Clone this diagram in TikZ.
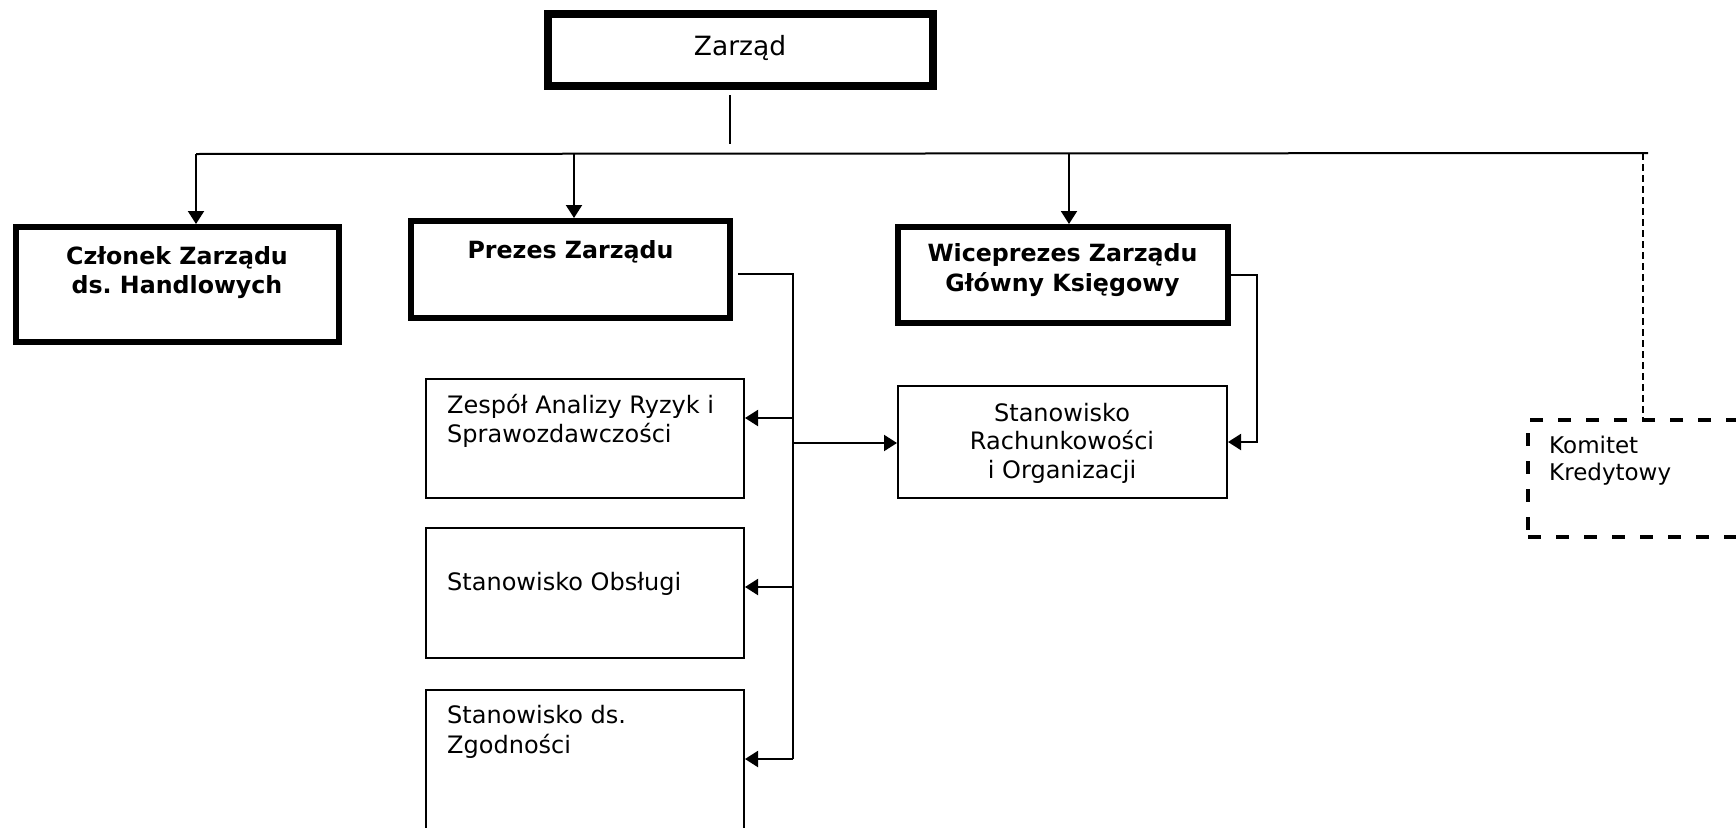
\documentclass[tikz,border=0pt]{standalone}
\usepackage{fontspec}
\setmainfont{DejaVu Sans}
\usetikzlibrary{arrows.meta}
\frenchspacing
\newcommand\mylinesC[1]{\vtop{\halign{\hfil##\hfil\cr#1\crcr}}}
\newcommand\mylinesL[1]{\vtop{\halign{##\hfil\cr#1\crcr}}}
\begin{document}
\begin{tikzpicture}[x=1pt,y=-1pt,
  thickbox/.style={draw, line width=6pt, rectangle, inner sep=0pt},
  thinbox/.style={draw, line width=2pt, rectangle, inner sep=0pt},
  dashbox/.style={draw, line width=4pt, dash pattern=on 13pt off 15pt, rectangle, inner sep=0pt},
  conn/.style={line width=2pt},
  arr/.style={conn, -{Triangle[length=13pt,width=16pt]}},
  dconn/.style={line width=2pt, dash pattern=on 7pt off 4pt},
  reg/.style={font=\frenchspacing\fontsize{24}{29}\selectfont, inner sep=0pt},
  bld/.style={font=\frenchspacing\bfseries\fontsize{23.7}{29.5}\selectfont, inner sep=0pt},
]
\useasboundingbox (0,0) rectangle (1736,827);
\clip (0,0) rectangle (1736,827);

% boxes
\node[thickbox, line width=8pt, minimum width=385pt, minimum height=72pt] (zar) at (740.5,50) {};
\node[thickbox, minimum width=323pt, minimum height=115pt] (cz) at (177.5,284.5) {};
\node[thickbox, minimum width=319pt, minimum height=97pt] (pz) at (570.5,269.5) {};
\node[thickbox, minimum width=330pt, minimum height=96pt] (wc) at (1063,275) {};
\node[thinbox, minimum width=329pt, minimum height=112pt] (sr) at (1062.5,442) {};
\node[thinbox, minimum width=318pt, minimum height=119pt] (ze) at (585,438.5) {};
\node[thinbox, minimum width=318pt, minimum height=130pt] (ob) at (585,593) {};
\node[thinbox, minimum width=318pt, minimum height=210pt] (zg) at (585,795) {};
\node[dashbox, minimum width=271pt, minimum height=117pt] (ko) at (1663.5,478.5) {};

% texts
\node[reg, font=\fontsize{26.5}{30}\selectfont, anchor=base] (zart) at (740,55) {Zarząd};
\node[bld, anchor=base] (czt) at (177,264) {\mylinesC{Członek Zarządu\cr ds. Handlowych}};
\node[bld, anchor=base] (pzt) at (570.5,258) {Prezes Zarządu};
\node[bld, font=\bfseries\fontsize{23.7}{30}\selectfont, anchor=base] (wct) at (1062.5,261) {\mylinesC{Wiceprezes Zarządu\cr Główny Księgowy}};
\node[reg, font=\fontsize{24}{28.5}\selectfont, anchor=base] (srt) at (1062,421) {\mylinesC{Stanowisko\cr Rachunkowości\cr i Organizacji}};
\node[reg, anchor=base west] (zet) at (447,413) {\mylinesL{Zespół Analizy Ryzyk i\cr Sprawozdawczości}};
\node[reg, anchor=base west] (obt) at (447,590) {Stanowisko Obsługi};
\node[reg, font=\fontsize{24}{30}\selectfont, anchor=base west] (zgt) at (447,723) {\mylinesL{Stanowisko ds.\cr Zgodności}};
\node[reg, font=\fontsize{23}{27}\selectfont, anchor=base west] (kot) at (1549,453) {\mylinesL{Komitet\cr Kredytowy}};

% coordinates
\coordinate (zs) at (730,95);
\coordinate (ze2) at (730,144);
\coordinate (b1) at (196,154);
\coordinate (b2) at (574,154);
\coordinate (b3) at (1069,153);
\coordinate (bk) at (1643,153);
\coordinate (bR) at (1648,153);
\coordinate (v0) at (738,274);
\coordinate (v1) at (793,274);
\coordinate (j1) at (793,418);
\coordinate (j4) at (793,443);
\coordinate (j2) at (793,587);
\coordinate (j3) at (793,759);
\coordinate (w1) at (1257,275);
\coordinate (w2) at (1257,442);

% connectors
\draw[conn] (zs) -- (ze2);
\draw[conn] (b1) -- (bR);
\draw[arr] (b1) -- (b1 |- cz.north);
\draw[arr] (b2) -- (b2 |- pz.north);
\draw[arr] (b3) -- (b3 |- wc.north);
\draw[dconn] (bk) -- (bk |- ko.north);
\draw[conn] (v0) -- (v1) -- (j3);
\draw[arr] (j1) -- (j1 -| ze.east);
\draw[arr] (j2) -- (j2 -| ob.east);
\draw[arr] (j3) -- (j3 -| zg.east);
\draw[arr] (j4) -- (j4 -| sr.west);
\draw[arr] (wc.east) -- (w1) -- (w2) -- (w2 -| sr.east);
\end{tikzpicture}
\end{document}
